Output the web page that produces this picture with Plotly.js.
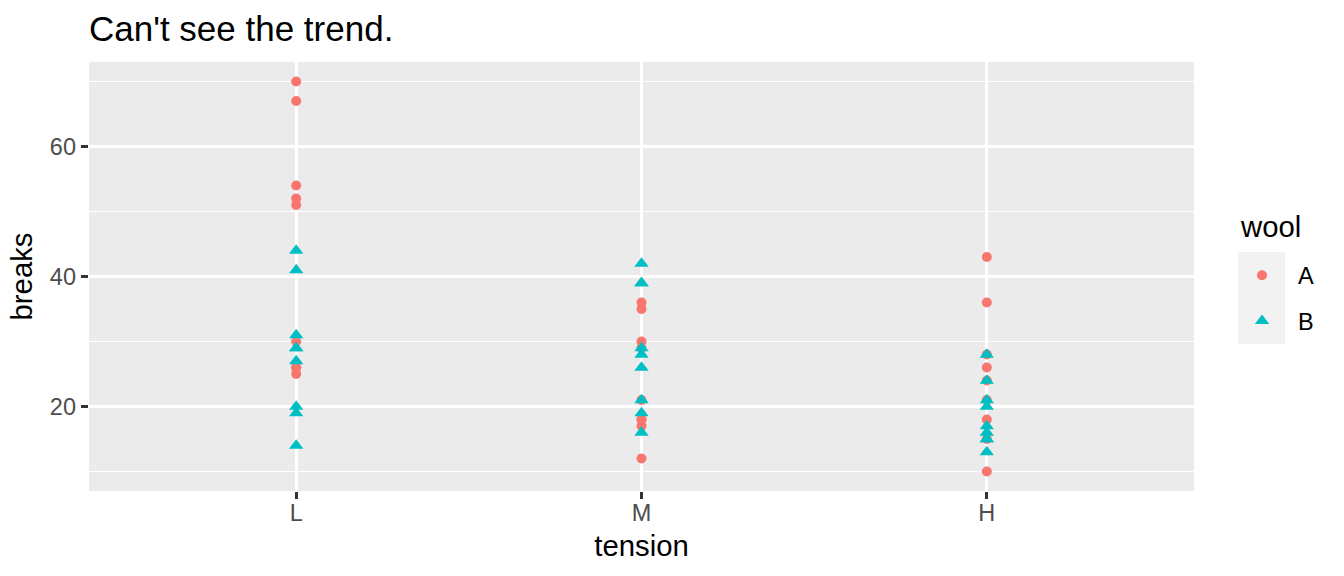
<!DOCTYPE html>
<html>
<head>
<meta charset="utf-8">
<script src="https://cdn.plot.ly/plotly-3.0.1.min.js"></script>
<style>html,body{margin:0;padding:0;background:#fff;}#chart{width:1344px;height:576px;}</style>
</head>
<body>
<div id="chart"></div>
<script>
// warpbreaks data
const tensionA = ['L','L','L','L','L','L','L','L','L','M','M','M','M','M','M','M','M','M','H','H','H','H','H','H','H','H','H'];
const breaksA  = [26,30,54,25,70,52,51,26,67, 18,21,29,17,12,18,35,30,36, 36,21,24,18,10,43,28,15,26];
const tensionB = ['L','L','L','L','L','L','L','L','L','M','M','M','M','M','M','M','M','M','H','H','H','H','H','H','H','H','H'];
const breaksB  = [27,14,29,19,29,31,41,20,44, 42,26,19,16,39,28,21,39,29, 20,21,24,17,13,15,15,16,28];
const categories = ['L','M','H'];
const woolLabels = ['A','B'];

const FONT = 'Liberation Sans, Arial, Helvetica, sans-serif';

const traces = [
  {x: tensionA, y: breaksA, name: woolLabels[0], legendgroup: 'a', type: 'scatter', mode: 'markers',
   marker: {symbol: 'circle', size: 10, color: '#F8766D', line: {width: 0}}},
  {x: tensionB, y: breaksB, name: woolLabels[1], legendgroup: 'b', type: 'scatter', mode: 'markers',
   marker: {symbol: 'triangle-up', size: 12.5, color: '#00BFC4', line: {width: 0}}}
];

const layout = {
  width: 1344, height: 576,
  margin: {l: 89, r: 150, t: 62, b: 85},
  paper_bgcolor: '#FFFFFF',
  plot_bgcolor: '#EBEBEB',
  font: {family: FONT, color: '#000000'},
  title: {text: "Can't see the trend.", font: {family: FONT, size: 35, color: '#000000'},
          x: 0, xref: 'paper', xanchor: 'left', y: 1 - 16/576, yref: 'container', yanchor: 'top'},
  xaxis: {
    type: 'category', categoryorder: 'array', categoryarray: categories,
    range: [-0.6, 2.6], showgrid: true, gridcolor: '#FFFFFF', gridwidth: 2.8,
    zeroline: false, showline: false,
    ticks: 'outside', ticklen: 7.3, tickwidth: 2.8, tickcolor: '#333333',
    ticklabelstandoff: -7,
    tickfont: {family: FONT, size: 23.5, color: '#4D4D4D'},
    title: {text: 'tension', font: {family: FONT, size: 29.3, color: '#000000'}, standoff: 10},
    automargin: false, fixedrange: true
  },
  yaxis: {
    range: [7, 73], tick0: 0, dtick: 20,
    showgrid: true, gridcolor: '#FFFFFF', gridwidth: 2.8,
    minor: {dtick: 10, tick0: 0, showgrid: true, gridcolor: '#FFFFFF', gridwidth: 1.4, ticks: ''},
    zeroline: false, showline: false,
    ticks: 'outside', ticklen: 7.3, tickwidth: 2.8, tickcolor: '#333333',
    tickfont: {family: FONT, size: 23.5, color: '#4D4D4D'},
    title: {text: 'breaks', font: {family: FONT, size: 29.3, color: '#000000'}, standoff: 8},
    automargin: false, fixedrange: true
  },
  showlegend: true,
  legend: {
    x: 1.0290, xanchor: 'left', y: 0.5536, yanchor: 'top',
    bgcolor: 'rgba(0,0,0,0)', borderwidth: 0,
    font: {family: FONT, size: 23.5, color: '#000000'},
    traceorder: 'grouped', tracegroupgap: 12, itemwidth: 62, itemclick: false, itemdoubleclick: false
  },
  annotations: [{
    text: 'wool', xref: 'paper', yref: 'paper', x: 1.0398, y: 0.6154,
    xanchor: 'left', yanchor: 'middle', showarrow: false,
    font: {family: FONT, size: 29.3, color: '#000000'}
  }],
  shapes: [{
    type: 'rect', xref: 'paper', yref: 'paper',
    x0: 1.0398, x1: 1.0824, y0: 0.3427, y1: 0.5571,
    fillcolor: '#F2F2F2', line: {width: 0}, layer: 'below'
  }]
};

Plotly.newPlot('chart', traces, layout, {staticPlot: true, displayModeBar: false});
</script>
</body>
</html>
